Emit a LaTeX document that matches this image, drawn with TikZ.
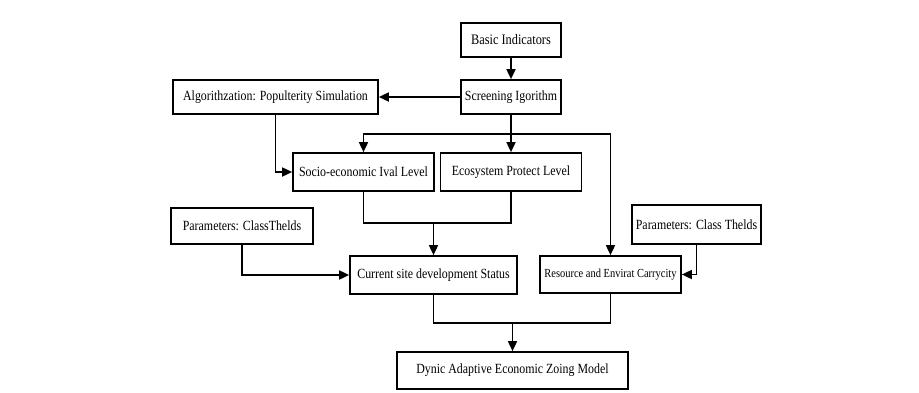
\documentclass[tikz,border=0pt]{standalone}
\usepackage{fontspec}
\setmainfont{Liberation Serif}[FakeStretch=0.85]
\usetikzlibrary{arrows.meta}
\begin{document}
\begin{tikzpicture}[x=1pt,y=-1pt,
  box/.style={draw, line width=1.7pt, inner sep=0pt, align=center, font=\fontsize{14}{16}\selectfont},
  arr/.style={line width=1.7pt, -{Triangle[length=10pt,width=9pt]}},
  ln/.style={line width=1.7pt}]
\useasboundingbox (0,0) rectangle (919,392);
\node[box, minimum width=100pt, minimum height=34pt, font=\fontsize{14.5}{16}\selectfont] (basic) at (511,40) {Basic Indicators};
\node[box, minimum width=100pt, minimum height=34pt] (screen) at (511,97) {Screening Igorithm};
\node[box, minimum width=205pt, minimum height=34pt] (algo) at (275.5,97) {Algorithzation: Populterity Simulation};
\node[box, minimum width=141pt, minimum height=38pt] (socio) at (363.5,172) {Socio-economic Ival Level};
\node[box, minimum width=141pt, minimum height=38pt] (eco) at (511,172) {Ecosystem Protect Level};
\node[box, minimum width=142pt, minimum height=36pt] (param1) at (242,226) {Parameters: ClassThelds};
\node[box, minimum width=167pt, minimum height=38pt] (current) at (433.5,275) {Current site development Status};
\node[box, minimum width=141pt, minimum height=37pt, font=\fontsize{12.3}{14}\selectfont] (resource) at (610.5,274.5) {Resource and Envirat Carrycity};
\node[box, minimum width=129pt, minimum height=39pt] (param2) at (696.5,224.5) {Parameters: Class Thelds};
\node[box, minimum width=231pt, minimum height=37pt] (dynic) at (512.5,370.5) {Dynic Adaptive Economic Zoing Model};
\coordinate (j1) at (511,134);
\coordinate (j2) at (433.5,223);
\coordinate (j3) at (512.5,323);
\draw[arr] (basic) -- (screen);
\draw[arr] (screen) -- (algo);
\draw[arr] (screen.south) -- (eco.north);
\draw[arr] (j1) -| (socio.north);
\draw[arr] (j1) -| (resource.north);
\draw[arr] (algo.south) |- (socio.west);
\draw[ln] (socio.south) |- (j2) -| (eco.south);
\draw[arr] (j2) -- (current.north);
\draw[arr] (param1.south) |- (current.west);
\draw[arr] (param2.south) |- (resource.east);
\draw[ln] (current.south) |- (j3) -| (resource.south);
\draw[arr] (j3) -- (dynic.north);
\end{tikzpicture}
\end{document}
